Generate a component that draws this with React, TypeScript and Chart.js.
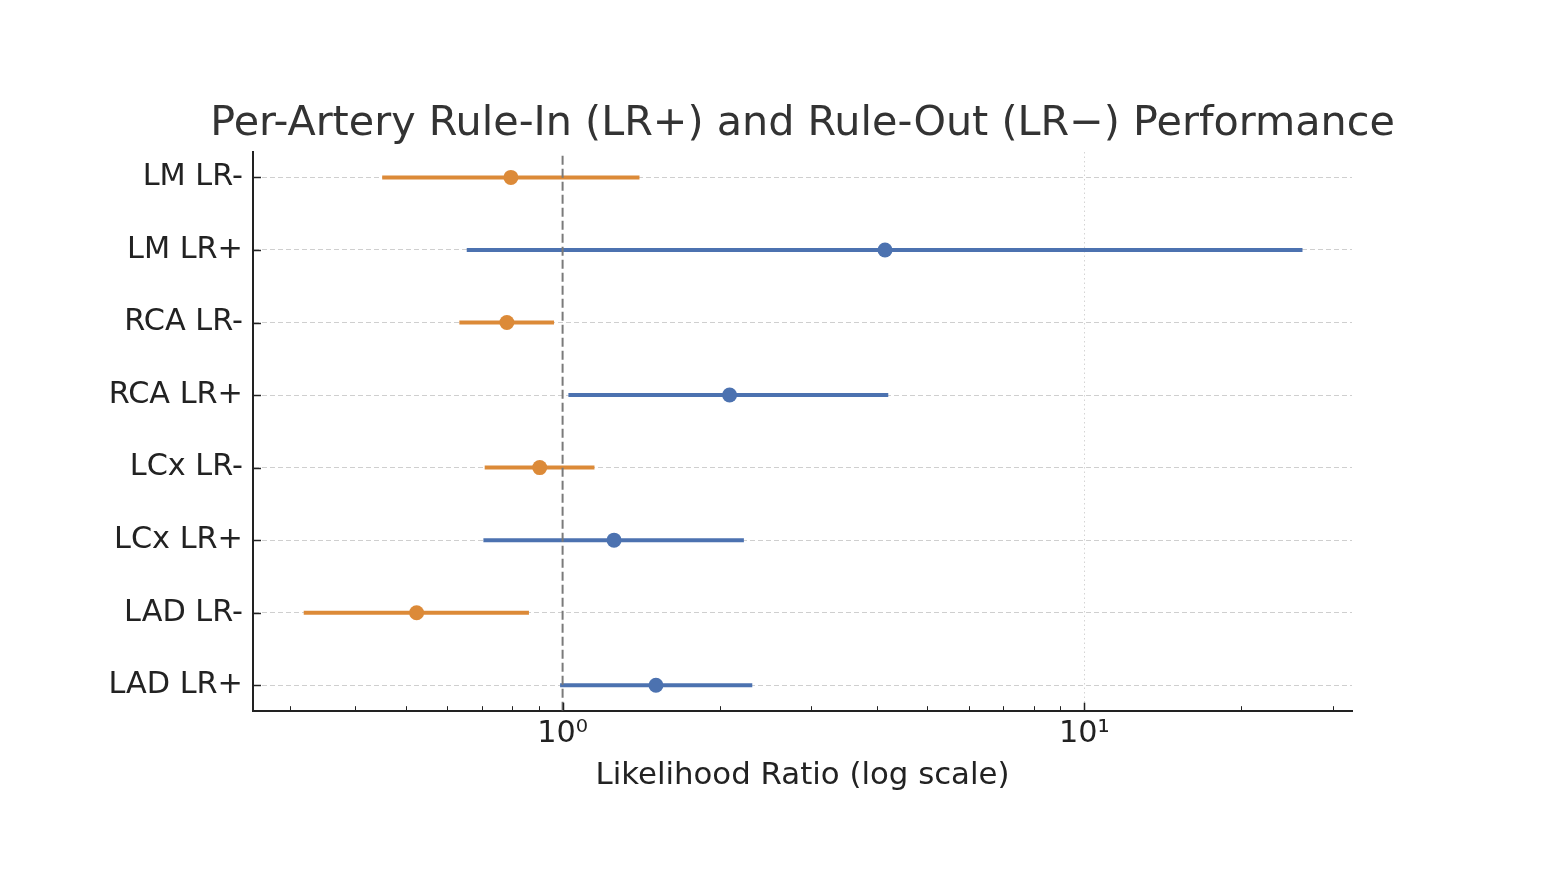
import { useEffect, useRef } from 'react';
import { Chart, registerables } from 'chart.js';

Chart.register(...registerables);

// Rows from bottom (index 0) to top
const rowLabels = ['LAD LR+', 'LAD LR-', 'LCx LR+', 'LCx LR-', 'RCA LR+', 'RCA LR-', 'LM LR+', 'LM LR-'];
const rowKinds = ['plus', 'minus', 'plus', 'minus', 'plus', 'minus', 'plus', 'minus'];
const estimates = [1.51, 0.525, 1.255, 0.904, 2.09, 0.782, 4.15, 0.796];
const lowerCI = [0.989, 0.319, 0.705, 0.709, 1.026, 0.634, 0.655, 0.451];
const upperCI = [2.31, 0.862, 2.226, 1.151, 4.21, 0.963, 26.2, 1.404];

const xTickValues = [0.3, 0.4, 0.5, 0.6, 0.7, 0.8, 0.9, 1, 2, 3, 4, 5, 6, 7, 8, 9, 10, 20, 30];
const xMajorLabels: Record<string, string> = { '1': '10⁰', '10': '10¹' };
const referenceValue = 1;

const titleText = 'Per-Artery Rule-In (LR+) and Rule-Out (LR−) Performance';
const xAxisTitle = 'Likelihood Ratio (log scale)';

const BLUE = '#4C72B0';
const ORANGE = '#DC8A38';
const FONT = "'DejaVu Sans', 'Noto Sans', sans-serif";
const LABEL_SIZE = 30.3;

export default function App() {
  const ref = useRef<HTMLCanvasElement>(null);

  useEffect(() => {
    const canvas = ref.current;
    if (!canvas) return;

    const inwardTicks = {
      id: 'inwardTicks',
      afterDraw(chart: any) {
        const { ctx, chartArea, scales } = chart;
        const xs = scales.x;
        const ys = scales.y;
        ctx.save();
        ctx.strokeStyle = '#222';
        xTickValues.forEach((v) => {
          const px = Math.round(xs.getPixelForValue(v)) + 0.5;
          const major = v === 1 || v === 10;
          const len = major ? 8 : 4.5;
          ctx.lineWidth = major ? 1.5 : 1;
          ctx.beginPath();
          ctx.moveTo(px, chartArea.bottom);
          ctx.lineTo(px, chartArea.bottom - len);
          ctx.stroke();
        });
        rowLabels.forEach((_, i) => {
          const py = Math.round(ys.getPixelForValue(i)) + 0.5;
          ctx.lineWidth = 1.5;
          ctx.beginPath();
          ctx.moveTo(chartArea.left, py);
          ctx.lineTo(chartArea.left + 8, py);
          ctx.stroke();
        });
        // Title, centred over the plot area
        ctx.fillStyle = '#333333';
        ctx.font = `normal 41.3px ${FONT}`;
        ctx.textAlign = 'center';
        ctx.textBaseline = 'alphabetic';
        ctx.fillText(titleText, (chartArea.left + chartArea.right) / 2, 135);
        ctx.restore();
      },
    };

    const colorOf = (i: number) => (rowKinds[i] === 'plus' ? BLUE : ORANGE);

    const refDataset = {
      data: [
        { x: referenceValue, y: -0.35 },
        { x: referenceValue, y: 7.35 },
      ],
      showLine: true,
      borderColor: '#7a7a7a',
      borderWidth: 2,
      borderDash: [9, 4],
      pointRadius: 0,
    };

    const pointDatasets = ['plus', 'minus'].map((kind) => ({
      data: rowLabels
        .map((_, i) => i)
        .filter((i) => rowKinds[i] === kind)
        .map((i) => ({ x: estimates[i], y: i })),
      showLine: false,
      pointRadius: 7.5,
      pointBorderWidth: 0,
      backgroundColor: kind === 'plus' ? BLUE : ORANGE,
      borderColor: kind === 'plus' ? BLUE : ORANGE,
    }));

    const barDatasets = rowLabels.map((_, i) => ({
      data: [
        { x: lowerCI[i], y: i },
        { x: upperCI[i], y: i },
      ],
      showLine: true,
      borderColor: colorOf(i),
      borderWidth: 4,
      borderCapStyle: 'butt',
      pointRadius: 0,
    }));

    Chart.defaults.font.family = FONT;

    const chart = new Chart(canvas, {
      type: 'scatter',
      data: { datasets: [refDataset, ...pointDatasets, ...barDatasets] as any },
      plugins: [inwardTicks],
      options: {
        animation: false,
        responsive: false,
        events: [],
        layout: { padding: { top: 152, right: 210, bottom: 86, left: 0 } },
        plugins: {
          legend: { display: false },
          tooltip: { enabled: false },
          title: { display: false },
        },
        scales: {
          x: {
            type: 'logarithmic',
            min: 0.255,
            max: 32.6,
            afterBuildTicks: (axis: any) => {
              axis.ticks = xTickValues.map((v) => ({ value: v }));
            },
            ticks: {
              autoSkip: false,
              maxRotation: 0,
              minRotation: 0,
              padding: 5,
              color: '#222',
              font: { family: FONT, size: LABEL_SIZE },
              callback: (v: any) => xMajorLabels[String(v)] ?? '',
            },
            grid: {
              drawTicks: false,
              lineWidth: 1,
              color: (ctx: any) => (ctx.tick && ctx.tick.value === 10 ? '#d4d4d4' : 'rgba(0,0,0,0)'),
            },
            border: { display: true, color: '#222', width: 2, dash: [1.5, 3] },
            title: {
              display: true,
              text: xAxisTitle,
              color: '#222',
              font: { family: FONT, size: 30.8 },
              padding: { top: 0, bottom: 0 },
            },
          },
          y: {
            type: 'linear',
            min: -0.35,
            max: 7.35,
            afterBuildTicks: (axis: any) => {
              axis.ticks = rowLabels.map((_, i) => ({ value: i }));
            },
            afterFit: (axis: any) => {
              axis.width = 253;
            },
            ticks: {
              autoSkip: false,
              padding: 10,
              color: '#222',
              font: { family: FONT, size: LABEL_SIZE },
              callback: (v: any) => rowLabels[v] ?? '',
            },
            grid: { drawTicks: false, lineWidth: 1, color: '#cfcfcf' },
            border: { display: true, color: '#222', width: 2, dash: [5, 3] },
          },
        },
      } as any,
    });

    return () => chart.destroy();
  }, []);

  return (
    <div style={{ position: 'fixed', left: 0, top: 0, width: 1562, height: 880, background: '#fff' }}>
      <canvas ref={ref} width={1562} height={880} style={{ display: 'block' }} />
    </div>
  );
}
